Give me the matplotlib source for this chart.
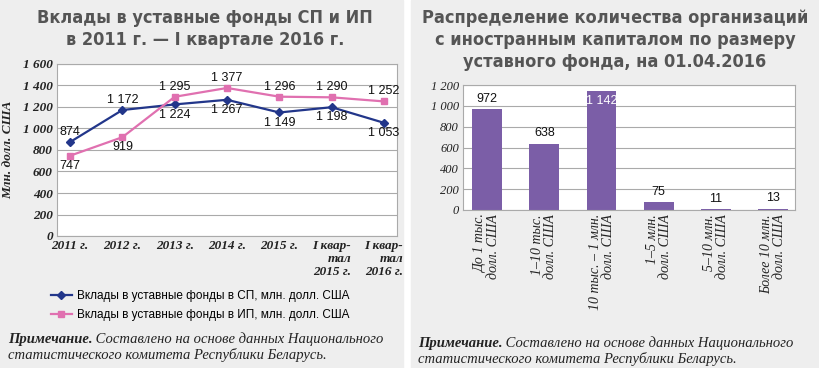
import matplotlib.pyplot as plt
from matplotlib.patches import Rectangle
from matplotlib.lines import Line2D

# left chart data
years = ['2011 г.', '2012 г.', '2013 г.', '2014 г.', '2015 г.',
         'I квар-\nтал\n2015 г.', 'I квар-\nтал\n2016 г.']
sp_vals = [874, 1172, 1224, 1267, 1149, 1198, 1053]
ip_vals = [747, 919, 1295, 1377, 1296, 1290, 1252]
sp_pos = ['up', 'up', 'down', 'down', 'down', 'down', 'down']
ip_pos = ['down', 'down', 'up', 'up', 'up', 'up', 'up']

# right chart data
groups = ['До 1 тыс.\nдолл. США', '1–10 тыс.\nдолл. США', '10 тыс. – 1 млн.\nдолл. США',
          '1–5 млн.\nдолл. США', '5–10 млн.\nдолл. США', 'Более 10 млн.\nдолл. США']
counts = [972, 638, 1142, 75, 11, 13]

W, H = 820, 368
fig = plt.figure(figsize=(8.2, 3.68), dpi=100, facecolor='white')

def px(x0, y0, x1, y1):
    return [x0 / W, 1 - y1 / H, (x1 - x0) / W, (y1 - y0) / H]

# gray panels
fig.add_artist(Rectangle((0, 0), 403 / W, 1, transform=fig.transFigure, color='#eeeeee', zorder=0))
fig.add_artist(Rectangle((411 / W, 0), 1 - 411 / W, 1, transform=fig.transFigure, color='#eeeeee', zorder=0))

title_font = dict(family=['DejaVu Sans'], fontstretch='condensed', fontweight='bold',
                  color='#555555', fontsize=13)
serif_it = dict(family=['Liberation Serif', 'DejaVu Serif'], style='italic', color='#222222')
sans = ['Liberation Sans', 'DejaVu Sans']

fig.text(205 / W, 1 - 29 / H, 'Вклады в уставные фонды СП и ИП\nв 2011 г. — I квартале 2016 г.',
         ha='center', va='center', linespacing=1.3, **title_font)
fig.text(615 / W, 1 - 40 / H, 'Распределение количества организаций\nс иностранным капиталом по размеру\nуставного фонда, на 01.04.2016',
         ha='center', va='center', linespacing=1.3, **title_font)

blue = '#22368a'
pink = '#e070b0'

# ---- left: line chart
ax1 = fig.add_axes(px(57, 64, 397, 236))
x = list(range(len(years)))
ax1.plot(x, sp_vals, color=blue, lw=1.6, marker='D', ms=4.5, zorder=3)
ax1.plot(x, ip_vals, color=pink, lw=1.6, marker='s', ms=4.5, zorder=3)
for vals, pos in [(sp_vals, sp_pos), (ip_vals, ip_pos)]:
    for i, (v, p) in enumerate(zip(vals, pos)):
        lab = f'{v:,}'.replace(',', ' ')
        dy = 3 if p == 'up' else -3
        ax1.annotate(lab, (i, v), xytext=(0, dy), textcoords='offset points',
                     ha='center', va='bottom' if p == 'up' else 'top', fontsize=9,
                     family=sans, color='#111111')
ax1.set_xlim(-0.25, 6.25)
ax1.set_ylim(0, 1600)
ax1.set_yticks(range(0, 1601, 200))
ax1.set_yticklabels([f'{t:,}'.replace(',', ' ') for t in range(0, 1601, 200)])
ax1.set_xticks(x)
ax1.set_xticklabels(years, multialignment='right', linespacing=1.1)
ax1.grid(axis='y', color='#aaaaaa', lw=0.8)
ax1.set_axisbelow(True)
ax1.tick_params(length=0, pad=3)
for lbl in ax1.get_xticklabels() + ax1.get_yticklabels():
    lbl.set(fontsize=9.5, fontweight='bold', **serif_it)
for s in ax1.spines.values():
    s.set_color('#aaaaaa')
ax1.set_ylabel('Млн. долл. США', fontsize=9.5, fontweight='bold', labelpad=6, **serif_it)

handles = [Line2D([], [], color=blue, lw=1.6, marker='D', ms=4),
           Line2D([], [], color=pink, lw=1.6, marker='s', ms=4)]
fig.legend(handles, ['Вклады в уставные фонды в СП, млн. долл. США',
                     'Вклады в уставные фонды в ИП, млн. долл. США'],
           loc='upper left', bbox_to_anchor=(46 / W, 1 - 285 / H), frameon=False,
           prop={'family': sans, 'size': 8.5}, handlelength=1.8, handletextpad=0.4,
           labelspacing=0.6, borderaxespad=0)

# ---- right: bar chart
ax2 = fig.add_axes(px(463, 85, 795, 210))
xb = list(range(len(groups)))
ax2.bar(xb, counts, width=0.52, color='#7b5ea7', zorder=2)
for i, v in enumerate(counts):
    lab = f'{v:,}'.replace(',', ' ')
    if v > 1100:
        ax2.annotate(lab, (i, v), xytext=(0, -3), textcoords='offset points', ha='center',
                     va='top', fontsize=9, family=sans, color='white')
    else:
        ax2.annotate(lab, (i, v), xytext=(0, 3), textcoords='offset points', ha='center',
                     va='bottom', fontsize=9, family=sans, color='#111111')
ax2.set_xlim(-0.42, 5.38)
ax2.set_ylim(0, 1200)
ax2.set_yticks(range(0, 1201, 200))
ax2.set_yticklabels([f'{t:,}'.replace(',', ' ') for t in range(0, 1201, 200)])
ax2.set_xticks(xb)
ax2.set_xticklabels(groups, rotation=90, ha='center', va='top', multialignment='right', linespacing=1.0)
ax2.grid(axis='y', color='#aaaaaa', lw=0.8)
ax2.set_axisbelow(True)
ax2.tick_params(length=0, pad=3)
for lbl in ax2.get_yticklabels():
    lbl.set(fontsize=9, **serif_it)
for lbl in ax2.get_xticklabels():
    lbl.set(fontsize=10, **serif_it)
for s in ax2.spines.values():
    s.set_color('#aaaaaa')

# notes
def note(xp, yp):
    t1 = fig.text(xp / W, 1 - yp / H, 'Примечание.', fontsize=10.5, fontweight='bold', **serif_it)
    ax1.annotate(' Составлено на основе данных Национального', xy=(1, 0), xycoords=t1,
                 va='bottom', ha='left', fontsize=10.5, annotation_clip=False, **serif_it)
    fig.text(xp / W, 1 - (yp + 16) / H, 'статистического комитета Республики Беларусь.',
             fontsize=10.5, **serif_it)

note(8, 343)
note(418, 347)

fig.savefig('out.png', dpi=100, facecolor=fig.get_facecolor())
